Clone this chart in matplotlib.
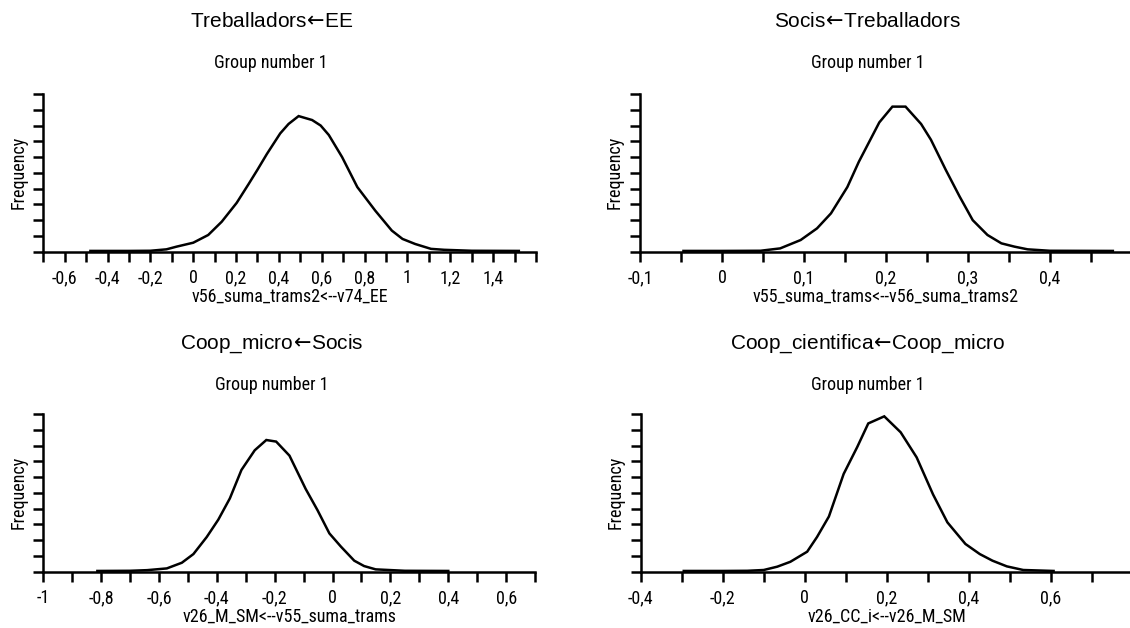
import matplotlib
matplotlib.use("Agg")
import matplotlib.pyplot as plt
import numpy as np
from matplotlib import font_manager
from matplotlib.ticker import FuncFormatter


# frequency polygons, height in percent of the frequency axis
trab_x = [-0.48, -0.30, -0.20, -0.125, -0.078, 0.0, 0.07, 0.133, 0.203, 0.259, 0.30,
          0.344, 0.406, 0.445, 0.492, 0.555, 0.595, 0.633, 0.695, 0.766, 0.85, 0.927,
          0.977, 1.036, 1.11, 1.172, 1.30, 1.52]
trab_y = [0.5, 0.5, 0.6, 1.5, 3.2, 5.7, 10.6, 19.0, 31.0, 43.0, 52.0,
          62.0, 75.0, 81.0, 86.0, 83.5, 80.0, 74.0, 60.0, 41.0, 26.0, 13.4,
          8.1, 4.9, 1.8, 1.2, 0.6, 0.5]

socis_x = [-0.047, 0.0, 0.047, 0.071, 0.096, 0.116, 0.133, 0.153, 0.167, 0.182, 0.192,
           0.208, 0.224, 0.243, 0.255, 0.273, 0.29, 0.306, 0.324, 0.341, 0.357, 0.373,
           0.40, 0.477]
socis_y = [0.5, 0.5, 0.6, 2.1, 7.4, 14.8, 24.3, 41.0, 57.0, 72.0, 82.0,
           92.0, 92.0, 81.0, 71.0, 52.0, 35.0, 20.0, 10.6, 5.3, 3.2, 1.5,
           0.6, 0.5]

micro_x = [-0.813, -0.70, -0.641, -0.573, -0.521, -0.481, -0.435, -0.395, -0.355, -0.315,
           -0.269, -0.229, -0.195, -0.149, -0.093, -0.052, -0.011, 0.029, 0.075, 0.109,
           0.149, 0.25, 0.40]
micro_y = [0.5, 0.6, 1.0, 2.1, 5.7, 11.2, 22.0, 33.0, 46.5, 64.5,
           77.0, 83.5, 82.5, 73.6, 52.5, 39.0, 24.3, 15.9, 7.0, 3.6,
           1.5, 0.6, 0.5]

cient_x = [-0.295, -0.20, -0.14, -0.10, -0.067, -0.035, 0.006, 0.03, 0.059, 0.095,
           0.128, 0.155, 0.194, 0.234, 0.273, 0.313, 0.348, 0.392, 0.427, 0.458,
           0.493, 0.533, 0.607]
cient_y = [0.5, 0.5, 0.6, 1.1, 3.2, 6.3, 12.7, 22.0, 35.0, 62.0,
           79.0, 94.0, 98.5, 88.4, 72.5, 49.0, 31.3, 17.6, 11.2, 7.0,
           3.4, 1.1, 0.5]

arrow = r"$\!\leftarrow\!$"
titles = ["Treballadors" + arrow + "EE", "Socis" + arrow + "Treballadors",
          "Coop_micro" + arrow + "Socis", "Coop_cientifica" + arrow + "Coop_micro"]
xlabels = ["v56_suma_trams2<--v74_EE", "v55_suma_trams<--v56_suma_trams2",
           "v26_M_SM<--v55_suma_trams", "v26_CC_i<--v26_M_SM"]
group_label = "Group number 1"

xlims = [(-0.7, 1.6), (-0.1, 0.5), (-1.0, 0.7), (-0.4, 0.8)]
tick_steps = [0.1, 0.05, 0.1, 0.1]
labelled_ticks = [
    [-0.6, -0.4, -0.2, 0, 0.2, 0.4, 0.6, 0.8, 1.0, 1.2, 1.4],
    [-0.1, 0, 0.1, 0.2, 0.3, 0.4],
    [-1.0, -0.8, -0.6, -0.4, -0.2, 0, 0.2, 0.4, 0.6],
    [-0.4, -0.2, 0, 0.2, 0.4, 0.6],
]

curves = [(trab_x, trab_y), (socis_x, socis_y), (micro_x, micro_y), (cient_x, cient_y)]

# axes boxes in figure fractions: left, bottom, width, height
boxes = [
    [0.0383, 0.5992, 0.4360, 0.2511],
    [0.5664, 0.5992, 0.4351, 0.2511],
    [0.0383, 0.0896, 0.4352, 0.2512],
    [0.5670, 0.0896, 0.4354, 0.2512],
]
title_pos = [(272, 21.7), (868, 21.7), (272, 344), (868, 344)]
group_pos = [(271, 63.3), (868, 63.3), (272, 384.7), (868, 384.7)]

W, H = 1130, 628


def pick_narrow_font():
    """Prefer a narrow sans face for the small labels, fall back to a smaller regular one."""
    fonts = font_manager.fontManager.ttflist
    names = {f.name for f in fonts}
    for name in ("Liberation Sans Narrow", "Arial Narrow", "DejaVu Sans Condensed",
                 "Roboto Condensed", "Open Sans Condensed", "Noto Sans Condensed"):
        if name in names:
            return {"family": [name, "DejaVu Sans"], "stretch": "normal"}, 13
    for fam in ("Liberation Sans", "Noto Sans", "Open Sans", "Roboto", "DejaVu Sans"):
        for f in fonts:
            if f.name == fam and "condensed" in str(f.stretch) and "extra" not in str(f.stretch) \
                    and f.weight in (400, "normal", "regular") and f.style == "normal":
                return {"family": [fam, "DejaVu Sans"], "stretch": f.stretch}, 13
    return {"family": ["Liberation Sans", "DejaVu Sans"], "stretch": "normal"}, 11


narrow, small_size = pick_narrow_font()
wide = ["Liberation Sans", "DejaVu Sans"]


def comma_fmt(v, pos):
    if abs(v) < 1e-9:
        return "0"
    return f"{round(v, 2):g}".replace(".", ",")


fig = plt.figure(figsize=(W / 100, H / 100), dpi=100)

for i in range(4):
    ax = fig.add_axes(boxes[i])
    xs, ys = curves[i]
    ax.plot(xs, ys, color="black", lw=1.8, solid_joinstyle="miter")

    lo, hi = xlims[i]
    ax.set_xlim(lo, hi)
    ax.set_ylim(0, 100)

    all_ticks = np.arange(lo, hi + 1e-6, tick_steps[i])
    ax.set_xticks(labelled_ticks[i])
    ax.set_xticks(all_ticks, minor=True)
    ax.xaxis.set_major_formatter(FuncFormatter(comma_fmt))
    ax.set_yticks(np.arange(0, 101, 10))
    ax.set_yticklabels([])

    for s in ["top", "right"]:
        ax.spines[s].set_visible(False)
    for s in ["left", "bottom"]:
        ax.spines[s].set_linewidth(1.8)

    ax.tick_params(axis="both", which="both", direction="out", length=7.5,
                   width=1.8, color="black")
    ax.tick_params(axis="x", which="major", pad=5, labelsize=small_size)
    for lab in ax.get_xticklabels():
        lab.set_family(narrow["family"])
        lab.set_fontstretch(narrow["stretch"])

    ax.set_xlabel(xlabels[i], fontsize=small_size, va="center", **narrow)
    ax.xaxis.set_label_coords(0.5, -0.287)
    ax.set_ylabel("Frequency", fontsize=small_size, va="center", **narrow)
    ax.yaxis.set_label_coords(-0.051, 0.5)

    tx, ty = title_pos[i]
    fig.text(tx / W, 1 - ty / H, titles[i], family=wide, fontsize=15,
             ha="center", va="center")
    gx, gy = group_pos[i]
    fig.text(gx / W, 1 - gy / H, group_label, fontsize=small_size,
             ha="center", va="center", **narrow)

fig.savefig("out.png", dpi=100)
